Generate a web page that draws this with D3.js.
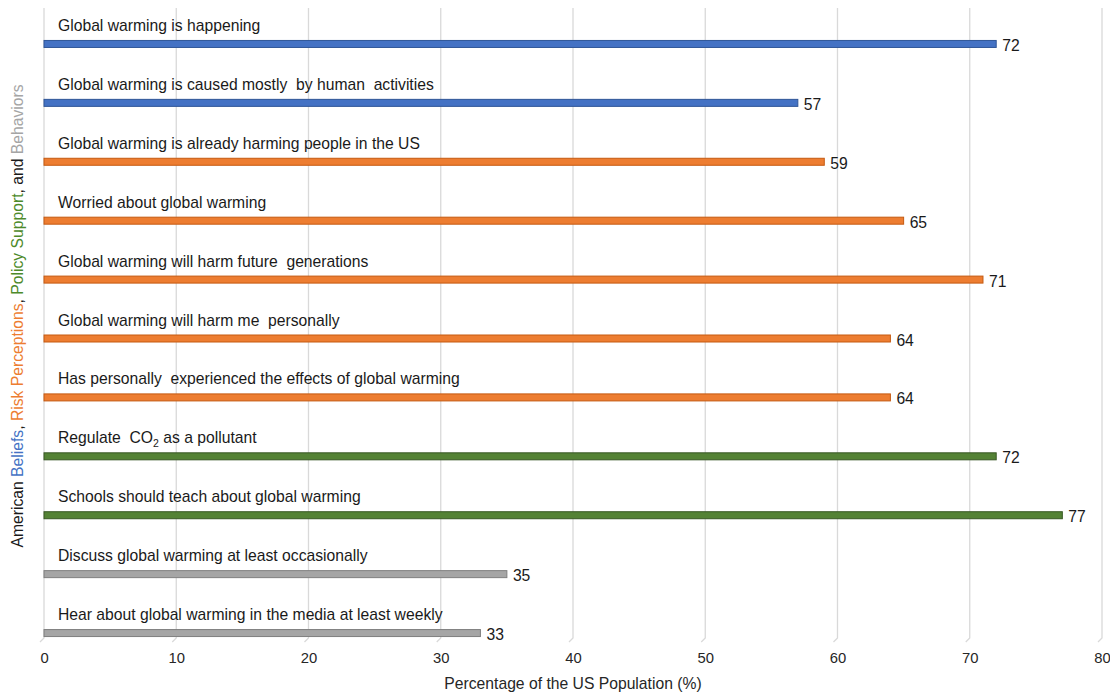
<!DOCTYPE html>
<html>
<head>
<meta charset="utf-8">
<script src="https://cdn.jsdelivr.net/npm/d3@7"></script>
<style>
  html, body { margin: 0; padding: 0; background: #fff; }
  svg text { font-family: "Liberation Sans", Arial, sans-serif; }
</style>
</head>
<body>
<svg id="chart" width="1110" height="693"></svg>
<script>
// Survey items, top to bottom
const items = [
  "Global warming is happening",
  "Global warming is caused mostly  by human  activities",
  "Global warming is already harming people in the US",
  "Worried about global warming",
  "Global warming will harm future  generations",
  "Global warming will harm me  personally",
  "Has personally  experienced the effects of global warming",
  "Regulate  CO2 as a pollutant",
  "Schools should teach about global warming",
  "Discuss global warming at least occasionally",
  "Hear about global warming in the media at least weekly"
];
const values = [72, 57, 59, 65, 71, 64, 64, 72, 77, 35, 33];
const groups = ["Beliefs", "Beliefs", "Risk", "Risk", "Risk", "Risk", "Risk", "Policy", "Policy", "Behaviors", "Behaviors"];
const xTicks = [0, 10, 20, 30, 40, 50, 60, 70, 80];

const fill = { Beliefs: "#4472c4", Risk: "#ed7d31", Policy: "#548235", Behaviors: "#a5a5a5" };
const edge = { Beliefs: "#2f5597", Risk: "#c55a11", Policy: "#385723", Behaviors: "#7f7f7f" };

const svg = d3.select("#chart");
const x = d3.scaleLinear().domain([0, 80]).range([44, 1102]);
const y = d3.scaleBand().domain(d3.range(items.length)).range([14.5, 662.5]);
const gridTop = 8, gridBottom = 638;
const fs = 15.7;

// Vertical gridlines with a small slanted foot
const grid = svg.append("g");
grid.selectAll("path").data(xTicks).join("path")
  .attr("d", d => `M${x(d)},${gridTop}V${gridBottom}L${x(d) - 4},${gridBottom + 4}`)
  .attr("fill", "none").attr("stroke", "#d9d9d9").attr("stroke-width", 1.3);

// Tick labels
const xAxis = d3.axisBottom(x).tickValues(xTicks).tickSize(0).tickPadding(0);
const ax = svg.append("g").attr("transform", `translate(0,652)`).call(xAxis);
ax.select(".domain").remove();
ax.selectAll("text").attr("font-size", 14.8).attr("fill", "#262626")
  .attr("font-family", "Liberation Sans, Arial, sans-serif");

// Bars
const barH = 7;
const cy = i => y(i) + y.bandwidth() / 2;
svg.append("g").selectAll("rect").data(values).join("rect")
  .attr("x", x(0))
  .attr("y", (d, i) => cy(i) - barH / 2)
  .attr("width", d => x(d) - x(0))
  .attr("height", barH)
  .attr("fill", (d, i) => fill[groups[i]])
  .attr("stroke", (d, i) => edge[groups[i]])
  .attr("stroke-width", 1);

// Value labels
svg.append("g").selectAll("text").data(values).join("text")
  .attr("x", d => x(d) + 6)
  .attr("y", (d, i) => cy(i) + 7)
  .attr("font-size", fs).attr("fill", "#1a1a1a")
  .text(d => d);

// Item labels above each bar
const lab = svg.append("g").selectAll("text").data(items).join("text")
  .attr("x", 58)
  .attr("y", (d, i) => cy(i) - 13)
  .attr("font-size", fs).attr("fill", "#1a1a1a")
  .style("white-space", "pre");
lab.each(function(d) {
  const t = d3.select(this);
  if (d.includes("CO2")) {
    const [a, b] = d.split("CO2");
    t.append("tspan").text(a + "CO");
    t.append("tspan").text("2").attr("font-size", 10.5).attr("dy", 4);
    t.append("tspan").text(b).attr("dy", -4);
  } else {
    t.text(d);
  }
});

// X axis title
svg.append("text")
  .attr("x", 573).attr("y", 689)
  .attr("text-anchor", "middle").attr("font-size", fs).attr("fill", "#262626")
  .text("Percentage of the US Population (%)");

// Y axis title with coloured category names
const yTitle = svg.append("text")
  .attr("transform", "translate(23,316) rotate(-90)")
  .attr("text-anchor", "middle").attr("font-size", fs).attr("fill", "#1a1a1a");
[
  ["American ", "#1a1a1a"], ["Beliefs", fill.Beliefs], [", ", "#1a1a1a"],
  ["Risk Perceptions", fill.Risk], [", ", "#1a1a1a"],
  ["Policy Support", "#4d8a2a"], [", and ", "#1a1a1a"], ["Behaviors", "#a5a5a5"]
].forEach(([t, c]) => yTitle.append("tspan").attr("fill", c).text(t));
</script>
</body>
</html>
